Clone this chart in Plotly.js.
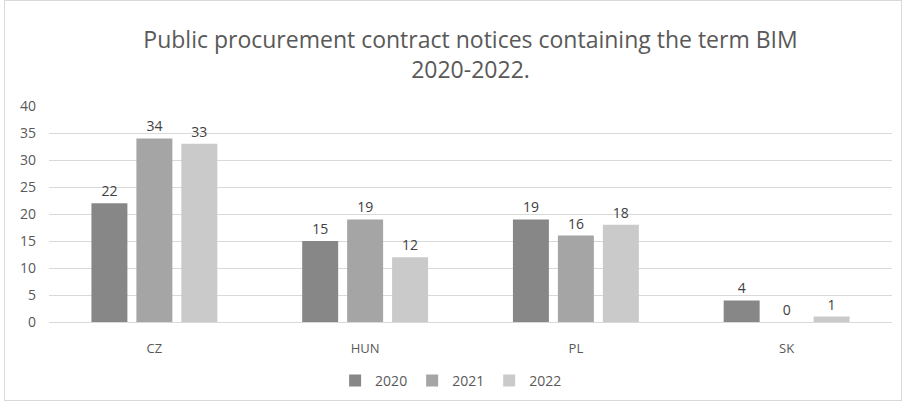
<!DOCTYPE html>
<html>
<head>
<meta charset="utf-8">
<script src="https://cdn.plot.ly/plotly-3.0.1.min.js"></script>
<style>
  html, body { margin: 0; padding: 0; background: #fff; }
  #wrap { position: relative; width: 908px; height: 406px; }
  #chart { width: 908px; height: 406px; }
  #frame { position: absolute; left: 4px; top: 0px; width: 898px; height: 401px; border: 1px solid #d9d9d9; pointer-events: none; box-sizing: border-box; }
</style>
</head>
<body>
<div id="wrap">
  <div id="chart"></div>
  <div id="frame"></div>
</div>
<script>
const categories = ["CZ", "HUN", "PL", "SK"];
const seriesNames = ["2020", "2021", "2022"];
const values2020 = [22, 15, 19, 4];
const values2021 = [34, 19, 16, 0];
const values2022 = [33, 12, 18, 1];
const colors = ["#878787", "#a5a5a5", "#cacaca"];

const fontFamily = "'Open Sans', 'Noto Sans', sans-serif";
const allValues = [values2020, values2021, values2022];

const traces = allValues.map((vals, i) => ({
  type: "bar",
  name: seriesNames[i],
  x: categories,
  y: vals,
  marker: { color: colors[i] },
  text: vals.map(String),
  textposition: "outside",
  cliponaxis: false,
  textfont: { family: fontFamily, size: 14, color: "#404040" },
  hoverinfo: "x+y+name"
}));

const layout = {
  width: 908,
  height: 406,
  margin: { l: 49, r: 16, t: 106, b: 84, autoexpand: false },
  paper_bgcolor: "#ffffff",
  plot_bgcolor: "#ffffff",
  barmode: "group",
  bargap: 0.36,
  bargroupgap: 0.2,
  font: { family: fontFamily, color: "#595959" },
  title: {
    text: "Public procurement contract notices containing the term BIM<br>2020-2022.",
    font: { family: fontFamily, size: 23, color: "#595959" },
    x: 0.5,
    xanchor: "center",
    xref: "paper",
    y: 0.882,
    yanchor: "middle",
    yref: "container"
  },
  xaxis: {
    type: "category",
    showgrid: false,
    showline: false,
    ticks: "",
    ticklabelstandoff: 17,
    tickfont: { family: fontFamily, size: 13, color: "#595959" },
    fixedrange: true
  },
  yaxis: {
    range: [0, 40],
    dtick: 5,
    tick0: 0,
    showgrid: true,
    gridcolor: "#d9d9d9",
    gridwidth: 1,
    zeroline: true,
    zerolinecolor: "#d9d9d9",
    zerolinewidth: 1,
    showline: false,
    ticks: "",
    ticklabelstandoff: 12,
    tickfont: { family: fontFamily, size: 14, color: "#595959" },
    fixedrange: true
  },
  showlegend: true,
  legend: {
    orientation: "h",
    x: 0.477,
    xanchor: "center",
    yref: "container",
    y: 0.062,
    yanchor: "middle",
    font: { family: fontFamily, size: 14, color: "#595959" },
    itemwidth: 30,
    traceorder: "normal"
  }
};

Plotly.newPlot("chart", traces, layout, { displayModeBar: false, staticPlot: true });
</script>
</body>
</html>
